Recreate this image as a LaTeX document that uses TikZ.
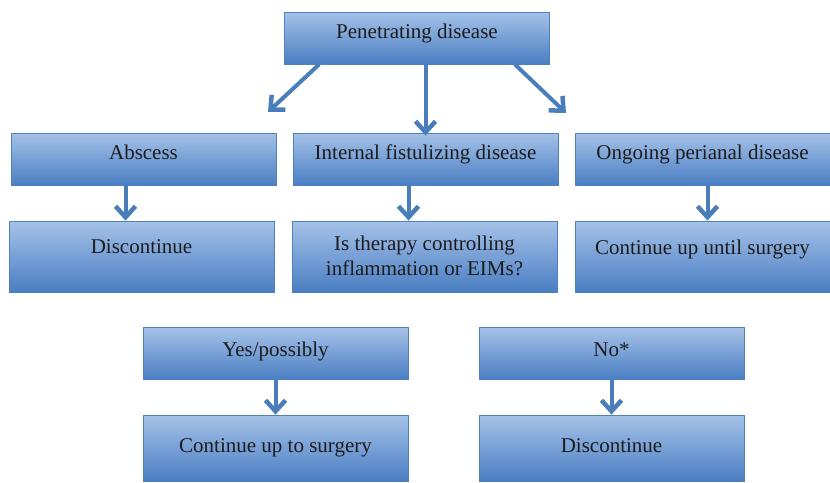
\documentclass[tikz,border=0pt]{standalone}
\usepackage{fontspec}
\setmainfont{Liberation Serif}
\usetikzlibrary{arrows.meta}
\definecolor{boxtop}{HTML}{A5C2E8}
\definecolor{boxmid}{HTML}{82A8DB}
\definecolor{boxbot}{HTML}{4A7EC3}
\definecolor{boxedge}{HTML}{4F81BD}
\definecolor{arredge}{HTML}{4A7EBB}
\definecolor{boxtext}{HTML}{1C1C1C}

\begin{document}
\begin{tikzpicture}[x=1pt, y=-1pt,
  box/.style={rectangle, draw=boxedge, line width=0.8pt, top color=boxtop,
              middle color=boxmid, bottom color=boxbot, minimum width=265pt,
              inner sep=0pt, align=center, text=boxtext,
              font=\fontsize{21}{24.5}\selectfont},
  tall/.style={box, minimum height=71pt},
  flat/.style={box, minimum height=52pt},
  arr/.style={draw=arredge, line width=4pt,
              -{Straight Barb[length=11pt, width=20pt, line width=4.5pt]}},
]
\useasboundingbox (0,0) rectangle (830,482);
\node[flat, text depth=14pt] (pen) at (417,38) {Penetrating disease};
\node[flat, text depth=14pt] (abscess) at (143.5,159) {Abscess};
\node[flat, text depth=14pt] (fistula) at (425.5,159) {Internal fistulizing disease};
\node[flat, text depth=14pt, minimum width=255pt] (perianal) at (702.5,159) {Ongoing perianal disease};
\node[tall, text depth=19pt] (discA) at (141.5,256.5) {Discontinue};
\node[tall, text depth=2pt] (therapy) at (424.5,256.5) {Is therapy controlling\\inflammation or EIMs?};
\node[tall, text depth=19pt, minimum width=255pt] (untilsurg) at (702.5,256.5) {Continue up until surgery};
\node[flat, text depth=8pt] (yes) at (275.5,353.5) {Yes/possibly};
\node[flat, text depth=8pt] (no) at (611.5,353.5) {No*};
\node[box, minimum height=66pt, text depth=4pt] (tosurg) at (275.5,448) {Continue up to surgery};
\node[box, minimum height=66pt, text depth=4pt] (discB) at (611.5,448) {Discontinue};
% fan-out from the top box
\coordinate (tipL) at (268,112);
\coordinate (tipR) at (566,113);
\draw[arr] ([xshift=35]pen.south west) -- (tipL);
\draw[arr] (pen.south -| fistula.north) -- ([yshift=-3]fistula.north);
\draw[arr] ([xshift=-35]pen.south east) -- (tipR);
% one step down in each column
\draw[arr] ([xshift=-18]abscess.south) -- ([xshift=-16]discA.north);
\draw[arr] ([xshift=-17]fistula.south) -- ([xshift=-16]therapy.north);
\draw[arr] ([xshift=5]perianal.south) -- ([xshift=5]untilsurg.north);
\draw[arr] (yes.south) -- (tosurg.north);
\draw[arr] (no.south) -- (discB.north);
\end{tikzpicture}
\end{document}
